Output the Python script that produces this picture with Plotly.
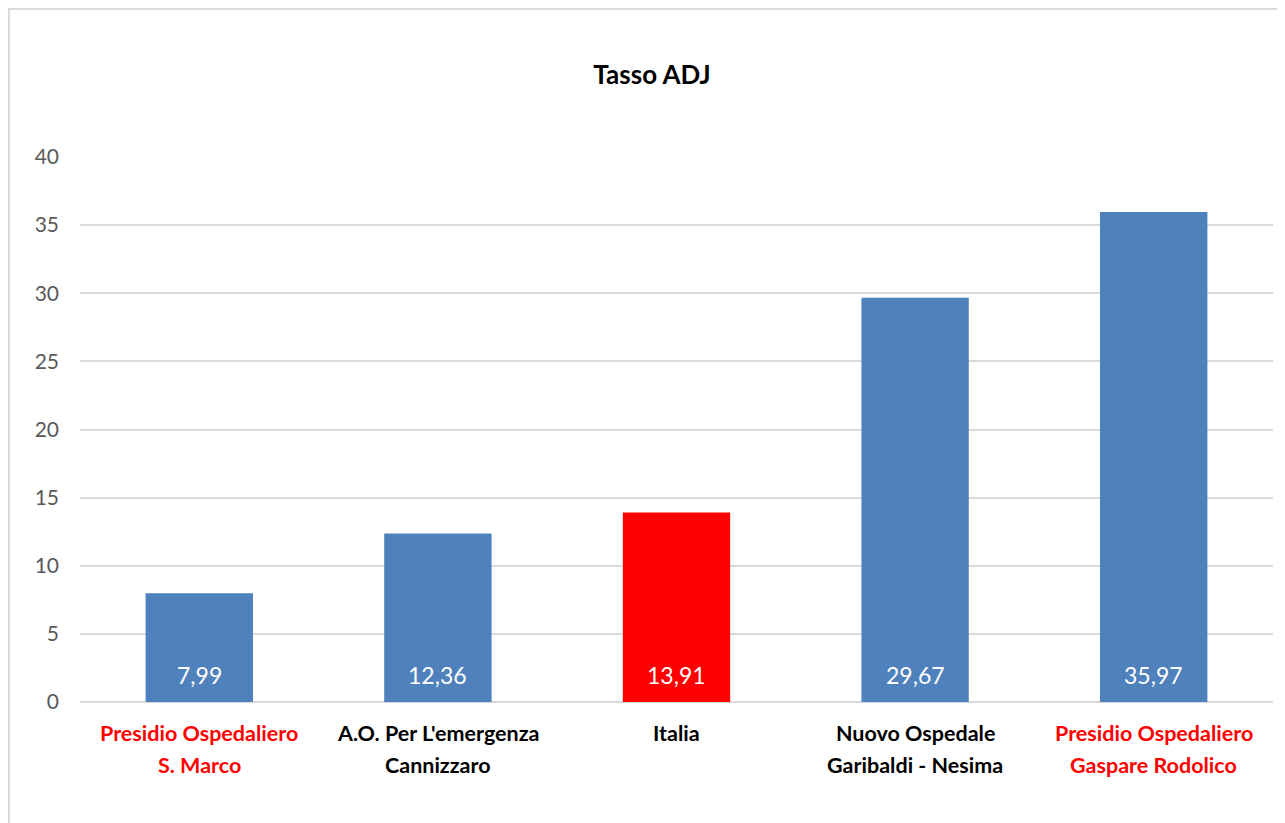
import plotly.graph_objects as go

categories = ["Presidio Ospedaliero<br>S. Marco",
              "A.O. Per L'emergenza<br>Cannizzaro",
              "Italia",
              "Nuovo Ospedale<br>Garibaldi - Nesima",
              "Presidio Ospedaliero<br>Gaspare Rodolico"]
values = [7.99, 12.36, 13.91, 29.67, 35.97]
bar_colors = ["#4F81BD", "#4F81BD", "#FF0000", "#4F81BD", "#4F81BD"]
label_colors = ["#FF0000", "#000000", "#000000", "#000000", "#FF0000"]

FONT = "Lato"

fig = go.Figure()
fig.add_trace(go.Bar(x=categories, y=values, marker=dict(color=bar_colors, line=dict(width=0)),
                     hoverinfo="x+y"))

# value labels at the foot of each bar
for c, v in zip(categories, values):
    fig.add_annotation(x=c, y=0, yshift=27, yanchor="middle", showarrow=False,
                       text=f"{v:.2f}".replace(".", ","),
                       font=dict(family=FONT, size=23, color="white"))

# category labels, one annotation per line for Excel-like spacing
for c, col in zip(categories, label_colors):
    lines = c.split("<br>")
    for i, line in enumerate(lines):
        fig.add_annotation(x=c, xref="x", yref="paper", y=-0.057 - i * 0.0587,
                           yanchor="middle", showarrow=False,
                           text=f"<b>{line}</b>",
                           font=dict(family=FONT, size=21.5, color=col))

# chart border (left and top edges visible)
fig.add_shape(type="rect", xref="paper", yref="paper",
              x0=-0.0595, x1=1.2, y0=-0.5, y1=1.2716,
              line=dict(color="#D9D9D9", width=2), layer="below")

fig.update_layout(
    width=1285, height=823,
    margin=dict(l=72, r=20, t=149, b=129),
    paper_bgcolor="white", plot_bgcolor="white",
    bargap=0.55,
    showlegend=False,
    title=dict(text="<b>Tasso ADJ</b>", x=0.5012, xref="container", xanchor="center",
               y=0.9186, yref="container", yanchor="middle",
               font=dict(family=FONT, size=26, color="black")),
    font=dict(family=FONT),
    xaxis=dict(showticklabels=False, showgrid=False, showline=False, ticks=""),
    yaxis=dict(range=[0, 40], dtick=5, showgrid=True, gridcolor="#D9D9D9", gridwidth=2,
               zeroline=True, zerolinecolor="#D9D9D9", zerolinewidth=2,
               showline=False, ticks="", ticklabelstandoff=20,
               tickfont=dict(family=FONT, size=21, color="#595959")),
)

fig.write_html("out.html")
